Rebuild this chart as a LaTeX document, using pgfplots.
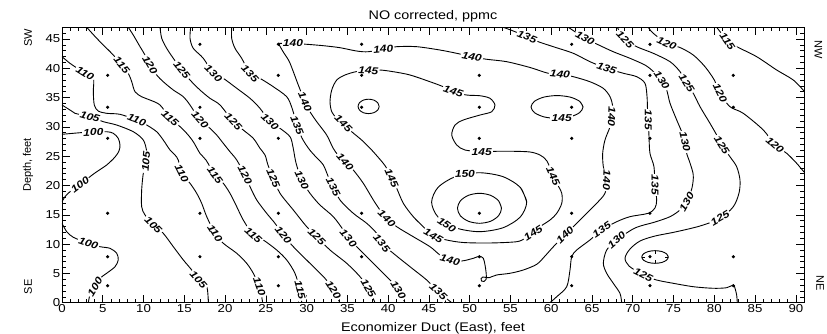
\documentclass[border=0pt]{standalone}
\usepackage{fontspec}
\setmainfont{Liberation Sans}
\newfontfamily\wideface{Liberation Sans}[FakeStretch=1.15]
\newfontfamily\labelface{Liberation Sans}[FakeStretch=1.2]
\usepackage{pgfplots}
\pgfplotsset{compat=1.18}

\newcommand{\ticklabelfont}{\wideface\fontsize{11.5}{13}\selectfont}
\newcommand{\titlefont}{\wideface\fontsize{12.5}{14}\selectfont}
\newcommand{\sidefont}{\fontsize{11}{13}\selectfont}
\newcommand{\levelfont}{\labelface\bfseries\itshape\fontsize{10}{12}\selectfont}

\begin{document}
\begin{tikzpicture}
\useasboundingbox (-62pt,-31.3pt) rectangle (765pt,302.7pt);
\begin{axis}[
  at={(0pt,0pt)}, anchor=south west,
  scale only axis, width=742pt, height=275.4pt,
  xmin=0, xmax=91, ymin=0, ymax=47,
  xtick={0,5,...,90}, ytick={0,5,...,45},
  minor xtick={0,1,...,91}, minor ytick={0,1,...,47},
  tick align=inside, xtick pos=both, ytick pos=both,
  xticklabel pos=lower, yticklabel pos=left,
  major tick length=8pt, minor tick length=4pt,
  tick style={black, line width=0.6pt},
  axis line style={line width=0.8pt},
  /pgf/number format/assume math mode=true,
  tick label style={font=\ticklabelfont},
  xticklabel style={inner sep=2pt},
  yticklabel style={inner sep=1.5pt},
  title={NO corrected, ppmc},
  title style={font=\titlefont, at={(axis description cs:0.5,1)}, anchor=base, yshift=1.5pt},
  xlabel={Economizer Duct (East), feet},
  xlabel style={font=\titlefont, at={(axis description cs:0.5,0)}, anchor=base, yshift=-29pt},
  ylabel={Depth, feet},
  ylabel style={font=\sidefont, at={(axis description cs:-0.0458,0.5)}, anchor=center},
  clip mode=individual,
  every axis plot/.append style={black, line width=0.9pt},
  contour/.style={smooth, tension=0.5, mark=none},
]
% 100
\addplot[contour] coordinates {(0,28.74) (1.39,28.91) (2.21,29.01) (3.84,29.08) (5.48,29.18) (6.29,28.91) (6.90,28.05) (7.11,26.91) (6.99,25.89) (6.50,24.86) (5.48,23.50) (4.26,22.35) (3.43,21.50) (2.21,20.08) (0.98,18.94) (0.37,18.09) (0,17.24)};
\addplot[contour] coordinates {(0,13.55) (0.58,12.12) (1.39,11.16) (3.23,10.14) (4.66,9.56) (5.89,9.28) (6.71,8.43) (6.90,7.29) (6.50,6.14) (5.48,5.02) (4.66,4.16) (4.05,2.73) (3.43,1.31) (3.23,0)};
% 105
\addplot[contour] coordinates {(0,33.74) (0.98,32.88) (1.59,32.32) (3.43,31.74) (5.07,30.89) (6.71,30.32) (8.74,29.18) (9.97,27.76) (10.39,25.77) (10.30,24.06) (9.97,22.08) (9.77,19.23) (9.77,16.38) (10.18,14.97) (11.20,13.26) (12.42,11.84) (13.65,9.56) (14.88,7.29) (15.91,5.58) (16.72,3.87) (17.75,2.73) (17.94,0)};
% 110
\addplot[contour] coordinates {(0,41.98) (0.98,40.85) (1.59,40.27) (2.82,39.15) (3.84,38.29) (3.84,36.01) (3.96,33.74) (4.45,32.71) (5.48,32.32) (7.11,32.15) (9.16,31.18) (10.39,30.32) (11.61,29.18) (12.42,27.76) (13.25,26.06) (13.86,25.20) (14.26,24.35) (14.68,22.08) (15.70,20.38) (16.52,18.67) (17.13,16.96) (17.75,14.68) (18.76,11.84) (19.78,10.14) (21.43,8.43) (22.65,6.72) (23.46,5.02) (24.20,2.73) (24.49,1.02) (24.61,0)};
% 115
\addplot[contour] coordinates {(3.03,47) (4.26,45.12) (5.48,43.41) (6.29,42.27) (7.32,40.56) (8.13,39.15) (8.55,37.71) (8.95,36.01) (9.77,35.15) (10.79,34.59) (12.02,33.74) (13.25,31.47) (14.26,30.32) (15.29,28.91) (16.10,27.47) (16.92,25.49) (17.66,24.35) (18.76,21.79) (19.78,20.38) (20.60,18.67) (21.43,16.38) (22.23,14.11) (23.46,11.55) (24.69,10.70) (26.33,8.99) (27.56,7.29) (28.57,5.02) (29.19,2.17) (29.40,0)};
% 120
\addplot[contour] coordinates {(8.13,47) (8.74,45.68) (9.57,43.69) (10.18,42.27) (10.79,40.56) (11.61,38.86) (12.42,37.71) (13.65,36.30) (14.88,35.15) (15.70,33.74) (16.92,31.18) (18.15,29.76) (18.97,28.62) (19.78,27.20) (20.60,25.77) (21.43,24.35) (22.44,21.79) (23.06,19.80) (23.88,17.53) (25.10,15.26) (26.12,13.55) (27.14,11.55) (28.37,9.56) (30.41,6.72) (32.25,4.16) (33.27,2.17) (34.09,0)};
% 125
\addplot[contour] coordinates {(12.02,47) (12.23,45.12) (12.84,43.41) (13.65,41.71) (14.68,39.71) (15.70,38.00) (16.92,36.30) (18.15,34.88) (19.38,33.74) (21.01,30.89) (22.23,29.47) (23.46,28.05) (24.28,26.35) (24.90,25.20) (25.26,23.50) (25.91,21.23) (26.74,18.67) (28.37,15.82) (30.01,12.97) (31.24,11.26) (32.87,8.99) (34.92,6.72) (36.55,4.44) (37.56,2.46) (38.39,0)};
% 130
\addplot[contour] coordinates {(15.78,47) (15.70,45.12) (16.10,43.41) (17.33,41.71) (18.56,39.15) (19.78,38.29) (21.43,36.59) (23.06,34.88) (24.28,33.17) (25.51,30.89) (26.74,29.76) (27.96,28.33) (28.33,26.57) (28.70,23.84) (29.40,20.94) (30.41,18.67) (31.64,16.67) (33.27,14.68) (34.50,12.41) (35.11,10.99) (36.55,8.99) (38.18,6.72) (39.82,4.44) (40.63,3.31) (41.24,2.17) (42.07,0)};
% 135
\addplot[contour] coordinates {(20.81,47) (20.81,45.12) (21.22,43.41) (22.04,41.71) (23.06,39.15) (24.28,38.29) (25.91,36.86) (27.56,35.15) (28.21,33.22) (28.82,30.32) (29.43,28.11) (30.29,26.23) (31.15,24.86) (32.05,23.50) (32.66,21.50) (33.27,19.80) (34.09,17.53) (35.72,15.26) (37.37,13.55) (38.59,11.84) (39.21,10.14) (40.63,8.43) (42.68,6.14) (44.73,3.87) (46.15,1.88) (47.38,0.46) (47.79,0)};
% 140 (closed, with its corner at the top left)
\addplot[contour] coordinates {(26.53,44.27) (28.33,44.24) (30.01,44.10) (32.05,43.86) (34.09,43.52) (36.14,42.95) (37.56,42.83) (39.40,43.29) (41.05,43.69) (43.50,43.69) (46.36,43.12) (48.41,42.56) (50.25,41.98) (52.09,41.54) (54.54,41.13) (57.40,40.14) (59.64,39.15) (61.07,39.03) (62.71,38.57) (64.75,37.71) (66.38,36.59) (67.21,35.15) (67.54,33.45) (67.41,31.74) (67.21,30.03) (66.59,27.76) (66.31,25.49) (66.39,23.21) (66.80,20.94) (66.59,18.67) (65.57,16.96) (64.35,15.26) (63.12,13.55) (61.69,11.55) (60.27,9.56) (59.24,7.97) (58.22,6.55) (56.57,5.58) (54.94,5.02) (53.31,4.73) (52.40,4.27) (52.0,4.30) (51.63,4.39) (51.39,4.13) (51.45,3.70) (51.76,3.62) (52.0,3.96) (52.04,4.56) (52.0,5.29) (51.88,6.43) (51.67,7.58) (51.18,7.92) (50.45,7.58) (49.02,7.12) (47.58,7.29) (46.36,8.14) (45.13,9.56) (43.08,11.26) (41.05,12.97) (39.82,14.40) (39.00,15.82) (38.18,17.53) (36.95,20.38) (35.72,22.65) (34.71,24.06) (33.85,25.20) (33.24,26.40) (32.46,28.62) (31.24,30.89) (30.41,32.59) (29.80,34.30) (28.98,37.15) (28.37,39.42) (27.84,41.25) (27.10,42.87) (26.53,44.27)};
% 145
\addplot[contour] coordinates {(37.56,39.59) (39.00,39.71) (40.63,39.42) (42.68,38.86) (45.13,37.71) (46.76,36.86) (47.99,36.01) (49.63,35.44) (51.27,35.32) (52.49,34.88) (53.10,33.74) (52.70,32.59) (51.27,32.03) (49.22,31.18) (48.20,30.32) (47.80,28.62) (48.41,26.91) (49.42,26.06) (51.47,25.77) (53.31,25.84) (55.35,25.84) (57.40,25.72) (58.62,25.20) (59.48,24.18) (60.22,21.62) (60.68,20.38) (61.29,18.67) (61.29,16.96) (60.68,15.26) (59.85,14.11) (58.62,12.97) (57.80,11.89) (56.78,10.99) (55.76,10.41) (52.49,10.19) (49.22,10.27) (47.18,10.70) (45.54,11.38) (44.31,12.97) (43.08,14.68) (41.86,16.96) (41.05,19.52) (40.43,21.23) (40.0,22.5) (39.40,23.79) (37.98,26.06) (36.75,27.76) (35.53,29.18) (34.50,30.61) (33.69,31.47) (33.08,32.59) (32.87,34.30) (33.08,36.30) (33.69,38.00) (34.71,38.86) (36.14,39.45) (37.56,39.59) (39.00,39.71)};
\addplot[contour] coordinates {(38.89,33.50) (38.72,34.12) (38.25,34.57) (37.60,34.73) (36.95,34.57) (36.48,34.12) (36.31,33.50) (36.48,32.88) (36.95,32.43) (37.60,32.27) (38.25,32.43) (38.72,32.88) (38.89,33.50) (38.72,34.12)};
\addplot[contour] coordinates {(63.90,33.40) (63.47,34.38) (62.31,35.09) (60.71,35.35) (59.11,35.09) (57.95,34.38) (57.52,33.40) (57.95,32.43) (59.11,31.71) (60.71,31.45) (62.31,31.71) (63.47,32.43) (63.90,33.40) (63.47,34.38)};
% 150 and the unlabelled inner ring
\addplot[contour] coordinates {(56.99,17.15) (56.21,19.67) (54.08,21.51) (51.16,22.18) (48.25,21.51) (46.11,19.67) (45.33,17.15) (46.11,14.63) (48.25,12.79) (51.16,12.12) (54.08,12.79) (56.21,14.63) (56.99,17.15) (56.21,19.67)};
\addplot[contour] coordinates {(53.90,16.11) (53.54,17.39) (52.55,18.33) (51.20,18.67) (49.85,18.33) (48.86,17.39) (48.50,16.11) (48.86,14.83) (49.85,13.89) (51.20,13.55) (52.55,13.89) (53.54,14.83) (53.90,16.11) (53.54,17.39)};
% east side: 135, 130, 125, 120, 115
\addplot[contour] coordinates {(54.12,47) (55.56,46.25) (57.03,45.34) (58.41,44.54) (60.25,43.69) (62.71,42.56) (64.75,41.13) (66.80,40.00) (68.86,39.15) (70.48,38.57) (71.50,37.44) (71.75,35.15) (71.81,32.88) (71.91,31.18) (71.99,28.33) (72.11,25.49) (72.60,23.21) (72.72,20.09) (72.93,17.53) (72.72,16.16) (71.90,15.26) (69.66,14.68) (68.03,13.82) (66.19,12.41) (64.75,10.70) (63.12,8.99) (62.51,7.85) (62.30,5.58) (61.90,2.73) (60.67,1.02) (59.85,0)};
\addplot[contour] coordinates {(62.09,47) (62.91,46.25) (64.14,45.12) (65.57,44.15) (67.61,42.83) (69.66,41.71) (71.50,40.56) (72.32,39.71) (72.97,38.86) (73.55,38.00) (74.16,36.30) (74.57,34.03) (75.39,31.18) (76.0,29.18) (76.40,27.47) (76.61,25.49) (77.02,23.84) (77.42,21.79) (77.26,19.57) (76.61,17.24) (75.79,15.82) (74.57,14.68) (72.73,13.77) (70.28,12.75) (68.03,10.70) (66.80,8.99) (66.39,6.72) (66.80,5.02) (67.61,3.31) (68.43,1.60) (68.64,0)};
\addplot[contour] coordinates {(68.10,47) (69.05,44.95) (70.48,43.69) (72.52,42.56) (74.57,41.13) (75.80,39.42) (76.61,37.44) (77.42,35.73) (78.25,33.45) (79.47,30.61) (80.29,28.62) (80.91,26.91) (81.92,24.91) (82.74,23.21) (83.15,20.94) (83.03,18.72) (82.33,16.38) (80.70,14.40) (78.25,13.09) (75.18,12.06) (72.73,11.38) (70.89,10.53) (69.66,9.16) (69.05,7.63) (69.54,6.26) (71.29,4.73) (72.93,3.87) (74.97,3.31) (77.42,2.73) (79.87,2.46) (81.52,2.56) (82.33,3.02) (82.54,2.46) (82.74,1.31) (82.82,0)};
\addplot[contour] coordinates {(71.90,47) (72.48,46.02) (74.16,44.27) (75.79,43.55) (77.42,42.27) (78.86,40.27) (80.0,38.0) (80.70,35.73) (81.92,33.45) (83.55,32.32) (86.01,29.47) (87.44,26.91) (88.88,25.49) (90.10,23.79) (91,22.30)};
\addplot[contour] coordinates {(80.29,47) (80.9,45.9) (81.6,44.6) (82.74,43.69) (85.20,41.98) (87.65,39.71) (89.69,38.00) (91,36.13)};
% closed low with downhill ticks
\addplot[contour] coordinates {(74.36,7.80) (74.14,8.34) (73.55,8.74) (72.73,8.88) (71.92,8.74) (71.32,8.34) (71.10,7.80) (71.32,7.26) (71.92,6.86) (72.73,6.72) (73.55,6.86) (74.14,7.26) (74.36,7.80) (74.14,8.34)};
\addplot[mark=none] coordinates {(72.73,8.88) (72.73,8.37)};
\addplot[mark=none] coordinates {(72.73,6.72) (72.73,7.23)};
\addplot[mark=none] coordinates {(71.10,7.80) (71.47,7.80)};
\addplot[mark=none] coordinates {(74.36,7.80) (73.99,7.80)};
% level labels: position, level, text angle
\addplot[draw=none, mark=none, nodes near coords, point meta=explicit symbolic,
  visualization depends on={\thisrow{ang}\as\labang},
  every node near coord/.append style={rotate=\labang, anchor=center, fill=white,
    inner sep=1.2pt, font=\levelfont, text=black}]
  table[x=x, y=y, meta=lev] {
x y lev ang
3.84 29.08 100 2
2.21 20.08 100 37
3.23 10.14 100 -19
4.05 2.73 100 59
3.43 31.74 105 -16
10.30 24.06 105 85
11.20 13.26 105 -45
16.72 3.87 105 -48
2.82 39.15 110 -32
9.16 31.18 110 -22
14.68 22.08 110 -63
18.76 11.84 110 -58
24.20 2.73 110 -70
7.32 40.56 115 -51
13.25 31.47 115 -43
18.76 21.79 115 -53
23.46 11.55 115 -42
29.19 2.17 115 -75
10.79 40.56 120 -60
16.92 31.18 120 -49
22.44 21.79 120 -63
27.14 11.55 120 -52
33.27 2.17 120 -58
14.68 39.71 125 -52
21.01 30.89 125 -47
25.91 21.23 125 -67
31.24 11.26 125 -45
37.56 2.46 125 -60
18.56 39.15 130 -45
25.51 30.89 130 -45
29.40 20.94 130 -65
35.11 10.99 130 -50
41.24 2.17 130 -59
23.06 39.15 135 -47
28.82 30.32 135 -68
33.27 19.80 135 -63
39.21 10.14 135 -50
46.15 1.88 135 -43
28.33 44.24 140 0
39.40 43.29 140 5
50.25 41.98 140 -11
61.07 39.03 140 -6
67.41 31.74 140 -92
66.80 20.94 140 -92
61.69 11.55 140 45
47.58 7.29 140 -15
39.82 14.40 140 -45
34.71 24.06 140 -50
29.80 34.30 140 -66
37.56 39.59 145 -3
47.99 36.01 145 -19
51.47 25.77 145 0
60.22 21.62 145 -66
57.80 11.89 145 33
45.54 11.38 145 -30
40.43 21.23 145 -66
34.50 30.61 145 -45
61.28 31.47 145 0
49.42 21.96 150 3
47.18 13.26 150 -35
57.03 45.34 135 -22
66.80 40.00 135 -19
71.91 31.18 135 -90
72.72 20.09 135 -90
66.19 12.41 135 34
64.14 45.12 130 -30
73.55 38.00 130 -57
76.40 27.47 130 -77
76.61 17.24 130 61
68.03 10.70 130 41
69.05 44.95 125 -47
76.61 37.44 125 -58
80.91 26.91 125 -58
80.70 14.40 125 30
71.29 4.73 125 -27
74.16 44.27 120 -25
80.70 35.73 120 -64
87.44 26.91 120 -41
81.60 44.60 115 -55
};
% sampling locations
\addplot[only marks, mark=*, mark size=1.1pt, black] table[x=x, y=y] {
x y
5.6 38.8
5.6 33.35
5.6 28.05
5.6 15.26
5.6 7.85
5.6 2.9
16.92 44.1
16.92 33.35
16.92 28.05
16.92 15.26
16.92 7.85
26.53 44.1
26.53 38.8
26.53 28.05
26.53 15.26
26.53 7.85
26.53 2.9
36.75 44.1
36.75 38.8
36.75 33.35
36.75 15.26
36.75 7.85
51.18 38.8
51.18 33.35
51.18 28.05
51.18 15.26
51.18 7.85
51.18 2.9
62.51 44.1
62.51 33.35
62.51 28.05
62.51 15.26
62.51 7.85
62.51 2.9
72.11 44.1
72.11 38.8
72.11 28.05
72.11 15.26
72.11 7.85
72.11 2.9
82.33 38.8
82.33 33.35
82.33 7.85
82.33 2.9
};
\node[font=\sidefont, rotate=90, anchor=center] at (axis description cs:-0.0458,0.961) {SW};
\node[font=\sidefont, rotate=90, anchor=center] at (axis description cs:-0.0458,0.058) {SE};
\node[font=\sidefont, rotate=-90, anchor=center] at (axis description cs:1.0193,0.9176) {NW};
\node[font=\sidefont, rotate=-90, anchor=center] at (axis description cs:1.0216,0.0704) {NE};
\end{axis}
\end{tikzpicture}
\end{document}
